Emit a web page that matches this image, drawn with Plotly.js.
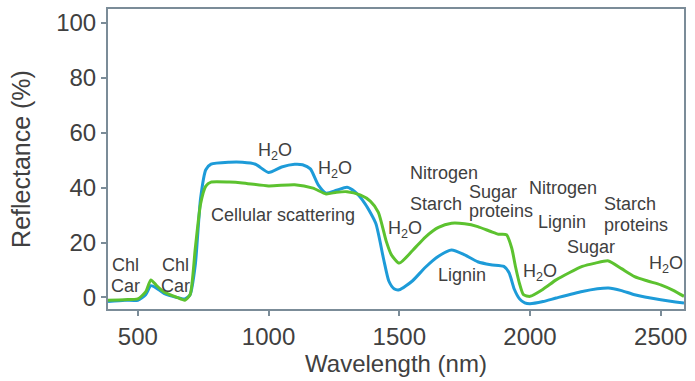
<!DOCTYPE html>
<html>
<head>
<meta charset="utf-8">
<script src="https://cdn.plot.ly/plotly-3.0.1.min.js"></script>
<style>html,body{margin:0;padding:0;background:#fff;}#chart{width:695px;height:381px;}</style>
</head>
<body>
<div id="chart"></div>
<script>
// Wavelength (nm) and reflectance (%)
const blueWavelength = [386, 450, 500, 530, 550, 570, 600, 650, 680, 700, 720, 740, 760, 780, 850, 900, 950, 1000, 1050, 1100, 1130, 1160, 1190, 1220, 1260, 1300, 1330, 1370, 1410, 1440, 1460, 1480, 1500, 1550, 1600, 1650, 1700, 1750, 1800, 1850, 1900, 1920, 1940, 1960, 1980, 2000, 2050, 2100, 2200, 2300, 2350, 2400, 2500, 2589];
const blueReflectance = [-1.5, -1, -1, 1, 4.3, 3.5, 1.5, 0, -0.5, 1, 12, 36, 46.5, 48.5, 49.2, 49.2, 48.5, 45.5, 47.5, 48.5, 48.3, 46.8, 41, 38, 39, 40.1, 38.5, 34, 27, 14, 6, 3.2, 2.8, 6, 11, 15, 17.3, 15.5, 13, 11.9, 11.3, 9, 3, -0.5, -2, -2.3, -1.5, -0.2, 2.2, 3.4, 2.5, 1, -0.8, -2];

const greenWavelength = [386, 450, 500, 530, 550, 570, 600, 650, 680, 700, 720, 740, 760, 780, 850, 900, 1000, 1100, 1170, 1220, 1260, 1300, 1350, 1390, 1420, 1450, 1470, 1500, 1550, 1600, 1650, 1700, 1750, 1800, 1850, 1880, 1910, 1930, 1945, 1960, 1975, 2000, 2050, 2100, 2150, 2200, 2250, 2300, 2350, 2400, 2450, 2500, 2550, 2589];
const greenReflectance = [-1, -0.8, -0.5, 2, 6.4, 4.5, 2, 0, -1, 1, 18, 34, 40.5, 42, 42, 41.7, 40.6, 41, 39.8, 37.7, 38.3, 38.5, 37.3, 35, 31, 20.5, 15.5, 12.5, 17, 22, 25.5, 27, 26.8, 25.8, 24, 23, 22.8, 18, 11, 5, 1, 0.4, 3, 6.4, 9, 11.3, 12.5, 13.3, 10.5, 7.6, 6, 4.6, 2.5, 0.4];

const xTickValues = [500, 1000, 1500, 2000, 2500];
const yTickValues = [0, 20, 40, 60, 80, 100];

// Label text, anchor and position (data coordinates)
const labelTexts = ["Chl", "Car", "Chl", "Car", "H<sub>2</sub>O", "H<sub>2</sub>O", "Cellular scattering", "H<sub>2</sub>O", "Nitrogen", "Starch", "Sugar", "proteins", "Nitrogen", "Lignin", "Starch", "proteins", "Sugar", "Lignin", "H<sub>2</sub>O", "H<sub>2</sub>O"];
const labelX = [451, 451, 646, 646, 1025, 1255, 1056, 1522, 1534, 1534, 1759, 1759, 2126, 2121, 2276, 2276, 2233, 1739, 2038, 2520];
const labelY = [11.9, 4.3, 11.9, 4.3, 53.1, 46.4, 30.1, 24.6, 45.2, 34.1, 38.5, 31.3, 39.8, 27.3, 34.1, 26.2, 18.3, 8.3, 9.1, 11.9];
const labelAnchor = ["center", "center", "center", "center", "center", "center", "center", "center", "left", "left", "left", "left", "center", "center", "left", "left", "center", "center", "center", "center"];

const traces = [
  {x: blueWavelength, y: blueReflectance, type: 'scatter', mode: 'lines',
   line: {color: '#1d9bd8', width: 3, shape: 'spline', smoothing: 0.6}, hoverinfo: 'skip'},
  {x: greenWavelength, y: greenReflectance, type: 'scatter', mode: 'lines',
   line: {color: '#5cc22f', width: 3, shape: 'spline', smoothing: 0.6}, hoverinfo: 'skip'}
];

const annotations = labelTexts.map((t, i) => ({
  text: t, x: labelX[i], y: labelY[i], xref: 'x', yref: 'y',
  xanchor: labelAnchor[i], yanchor: 'middle', showarrow: false,
  font: {family: 'Liberation Sans, Arial, sans-serif', size: 18, color: '#404040'}
}));

const axisColor = '#7b8c98';
const layout = {
  width: 695, height: 381,
  margin: {l: 108, r: 11, t: 9, b: 72},
  paper_bgcolor: '#ffffff', plot_bgcolor: '#ffffff',
  showlegend: false,
  font: {family: 'Liberation Sans, Arial, sans-serif', color: '#404040'},
  xaxis: {
    range: [386, 2589], tickvals: xTickValues, ticktext: xTickValues.map(String),
    showgrid: false, zeroline: false, showline: true, mirror: true,
    linecolor: axisColor, linewidth: 2,
    ticks: 'outside', ticklen: 5, tickwidth: 2, tickcolor: axisColor,
    tickfont: {size: 24, color: '#404040'},
    title: {text: 'Wavelength (nm)', font: {size: 24, color: '#404040'}, standoff: 6}
  },
  yaxis: {
    range: [-4.2, 105], tickvals: yTickValues, ticktext: yTickValues.map(String),
    showgrid: false, zeroline: false, showline: true, mirror: true,
    linecolor: axisColor, linewidth: 2,
    ticks: 'outside', ticklen: 5, tickwidth: 2, tickcolor: axisColor,
    tickfont: {size: 24, color: '#404040'},
    title: {text: 'Reflectance (%)', font: {size: 25, color: '#404040'}, standoff: 18}
  },
  annotations: annotations
};

Plotly.newPlot('chart', traces, layout, {staticPlot: true, displayModeBar: false});
</script>
</body>
</html>
